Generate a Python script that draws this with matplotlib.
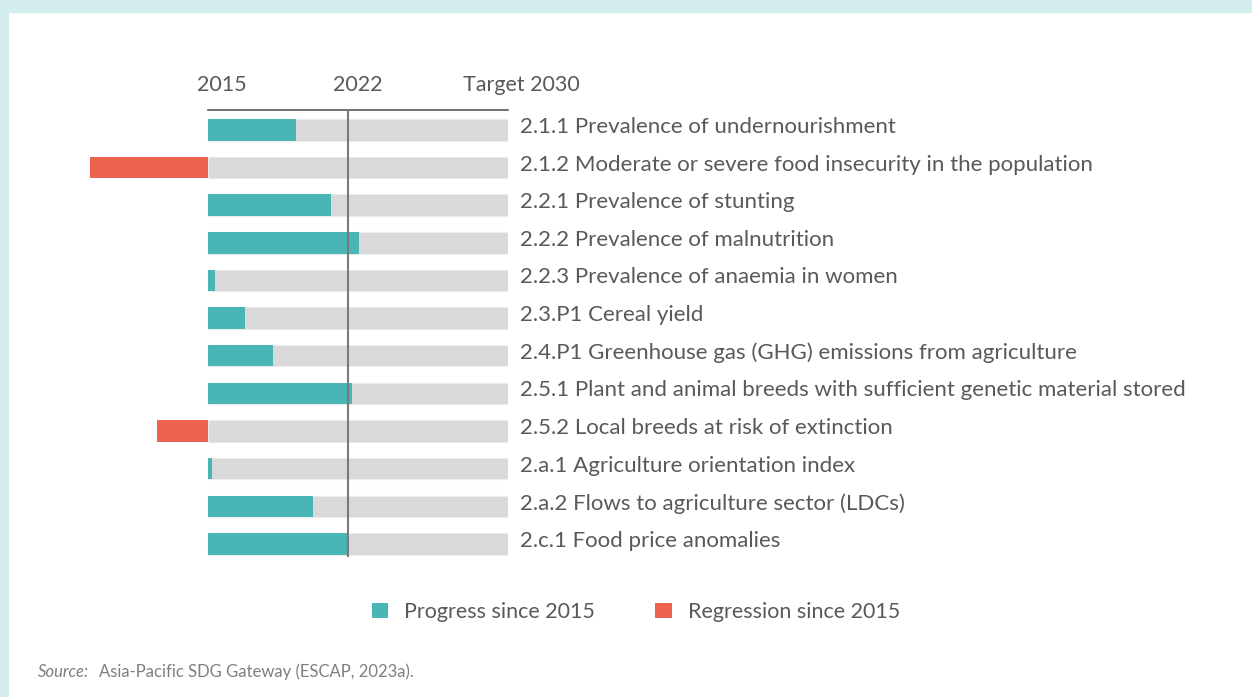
import matplotlib
matplotlib.use("Agg")
import matplotlib.pyplot as plt
from matplotlib.patches import Patch, Rectangle

# progress measured in years of the 2015-2030 path (0 = 2015, 15 = target 2030)
indicators = [
    "2.1.1 Prevalence of undernourishment",
    "2.1.2 Moderate or severe food insecurity in the population",
    "2.2.1 Prevalence of stunting",
    "2.2.2 Prevalence of malnutrition",
    "2.2.3 Prevalence of anaemia in women",
    "2.3.P1 Cereal yield",
    "2.4.P1 Greenhouse gas (GHG) emissions from agriculture",
    "2.5.1 Plant and animal breeds with sufficient genetic material stored",
    "2.5.2 Local breeds at risk of extinction",
    "2.a.1 Agriculture orientation index",
    "2.a.2 Flows to agriculture sector (LDCs)",
    "2.c.1 Food price anomalies",
]
progress = [4.4, -5.9, 6.15, 7.55, 0.35, 1.85, 3.25, 7.2, -2.55, 0.2, 5.25, 7.0]
target_span = 15
current_year = 7  # 2022
header_labels = ["2015", "2022", "Target 2030"]

TEAL = "#4ab5b5"
RED = "#ee6250"
GREY_BAR = "#d9d9d9"
TEXT = "#595959"
FRAME = "#d4eef0"

plt.rcParams["font.family"] = ["Lato", "DejaVu Sans"]

W, H = 1252, 697
fig = plt.figure(figsize=(W / 100, H / 100), dpi=100)
fig.patch.set_facecolor("white")

# light cyan frame (top and left bands)
fig.patches.append(Rectangle((0, 1 - 12 / H), 1, 12 / H, transform=fig.transFigure,
                             color=FRAME, zorder=0))
fig.patches.append(Rectangle((0, 0), 8 / W, 1, transform=fig.transFigure,
                             color=FRAME, zorder=0))

# axes placed in pixel units: x 80..508, y 110..556
ax = fig.add_axes([80 / W, 1 - 556 / H, (508 - 80) / W, (556 - 110) / H])
ax.set_xlim(-6.4, target_span)
ax.set_ylim(11.32, -0.53)
ax.axis("off")

rows = list(range(len(indicators)))
bh = 0.57

ax.barh(rows, [target_span] * len(rows), left=0, height=bh, color=GREY_BAR,
        edgecolor="#ececec", linewidth=0.8, zorder=1)
colors = [TEAL if v >= 0 else RED for v in progress]
ax.barh(rows, progress, left=0, height=bh, color=colors, edgecolor="none", zorder=2)

# top rule and 2022 marker
ax.plot([0, target_span], [-0.53, -0.53], color="#595959", lw=1.2, clip_on=False, zorder=3)
ax.plot([current_year, current_year], [-0.53, 11.32], color="#7a7a7a", lw=1.5,
        clip_on=False, zorder=3)

for i, name in zip(rows, indicators):
    ax.text(target_span + 0.6, i - 0.08, name, va="center", ha="left", fontsize=16,
            color=TEXT, clip_on=False)

header_x = [0.7, 7.5, 15.65]
for x, lab in zip(header_x, header_labels):
    ax.text(x, -1.2, lab, ha="center", va="center", fontsize=15.5, color=TEXT,
            clip_on=False)

handles = [Patch(facecolor=TEAL, label="Progress since 2015"),
           Patch(facecolor=RED, label="Regression since 2015")]
leg = fig.legend(handles=handles, loc="center", bbox_to_anchor=(636 / W, 1 - 612 / H),
                 ncol=2, frameon=False, fontsize=15.5, handlelength=0.75,
                 handleheight=0.75, handletextpad=0.75, columnspacing=2.8)
for t in leg.get_texts():
    t.set_color(TEXT)

src = fig.text(38 / W, 1 - 672 / H, "Source:", style="italic", fontsize=12,
               color="#7f7f7f", va="center", ha="left")
fig.text(99 / W, 1 - 672 / H, "Asia-Pacific SDG Gateway (ESCAP, 2023a).", fontsize=12,
         color="#7f7f7f", va="center", ha="left")

fig.savefig("out.png", dpi=100, facecolor=fig.get_facecolor())
